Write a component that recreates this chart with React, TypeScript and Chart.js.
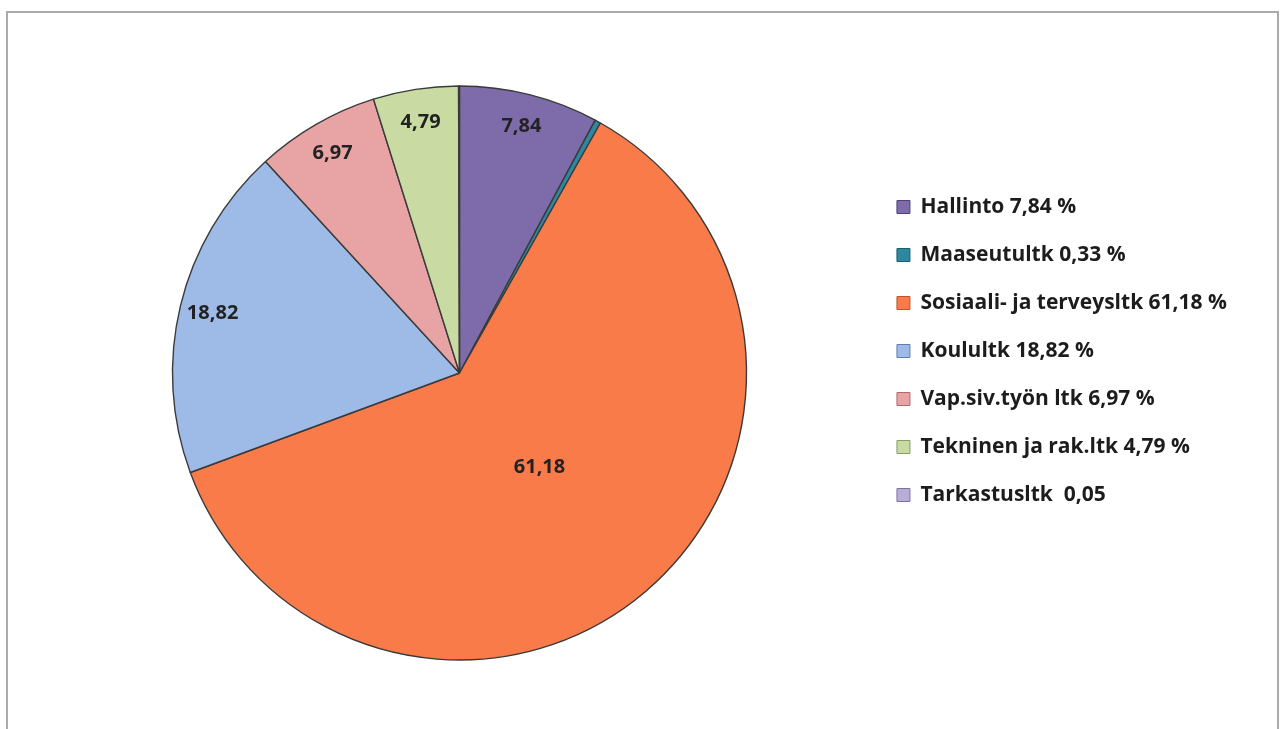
import React, { useEffect, useRef } from "react";
import { Chart, registerables } from "chart.js";
Chart.register(...registerables);

const categories = [
  "Hallinto 7,84 %",
  "Maaseutultk 0,33 %",
  "Sosiaali- ja terveysltk 61,18 %",
  "Koulultk 18,82 %",
  "Vap.siv.työn ltk 6,97 %",
  "Tekninen ja rak.ltk 4,79 %",
  "Tarkastusltk  0,05",
];
const values = [7.84, 0.33, 61.18, 18.82, 6.97, 4.79, 0.05];
const colors = ["#7E6BAA", "#2C879F", "#FA7B4A", "#9EBAE6", "#E8A4A4", "#C9DAA3", "#B9ADD8"];
const legendStroke = ["#4E3F78", "#1A5F72", "#B8552C", "#5F7FAE", "#B06A6A", "#8A9E63", "#7E72A0"];

const FONT = "'Open Sans', Lato, sans-serif";

const sliceLabels = {
  id: "sliceLabels",
  afterDatasetsDraw(chart: any) {
    const meta = chart.getDatasetMeta(0);
    const ctx = chart.ctx;
    ctx.save();
    ctx.font = `bold 20px ${FONT}`;
    ctx.fillStyle = "#222222";
    ctx.textAlign = "center";
    ctx.textBaseline = "middle";
    meta.data.forEach((arc: any, i: number) => {
      const v = values[i];
      if (v < 1) return;
      const p = arc.getProps(["x", "y", "startAngle", "endAngle", "outerRadius"], true);
      const mid = (p.startAngle + p.endAngle) / 2;
      const f = v > 50 ? 0.43 : 0.885;
      ctx.fillText(
        v.toFixed(2).replace(".", ","),
        p.x + Math.cos(mid) * p.outerRadius * f,
        p.y + Math.sin(mid) * p.outerRadius * f
      );
    });
    ctx.restore();
  },
};

const legendShift = {
  id: "legendShift",
  afterLayout(chart: any) {
    const l = chart.legend;
    if (l) {
      l.top -= 22;
      l.bottom -= 22;
    }
  },
};

export default function App() {
  const ref = useRef<HTMLCanvasElement>(null);
  useEffect(() => {
    if (!ref.current) return;
    const chart = new Chart(ref.current, {
      type: "pie",
      data: {
        labels: categories,
        datasets: [
          {
            data: values,
            backgroundColor: colors,
            borderColor: "#3a3a3a",
            borderWidth: 1.4,
          },
        ],
      },
      options: {
        animation: false,
        responsive: true,
        maintainAspectRatio: false,
        radius: 287,
        layout: { padding: { left: 41, right: 40, top: 73, bottom: 69 } },
        plugins: {
          tooltip: { enabled: false },
          legend: {
            position: "right",
            align: "center",
            labels: {
              font: { family: FONT, size: 21, weight: "bold" },
              color: "#1c1c1c",
              boxWidth: 13,
              boxHeight: 13,
              padding: 27,
              generateLabels() {
                return categories.map((c, i) => ({
                  text: c,
                  fillStyle: colors[i],
                  strokeStyle: legendStroke[i],
                  lineWidth: 1,
                  hidden: false,
                  index: i,
                  fontColor: "#1c1c1c",
                }));
              },
            },
          },
        },
      } as any,
      plugins: [sliceLabels, legendShift],
    });
    return () => chart.destroy();
  }, []);

  return (
    <div
      style={{
        position: "absolute",
        left: 6,
        top: 11,
        width: 1269,
        height: 716,
        border: "2px solid #ababab",
        background: "#fff",
      }}
    >
      <canvas ref={ref} />
    </div>
  );
}
